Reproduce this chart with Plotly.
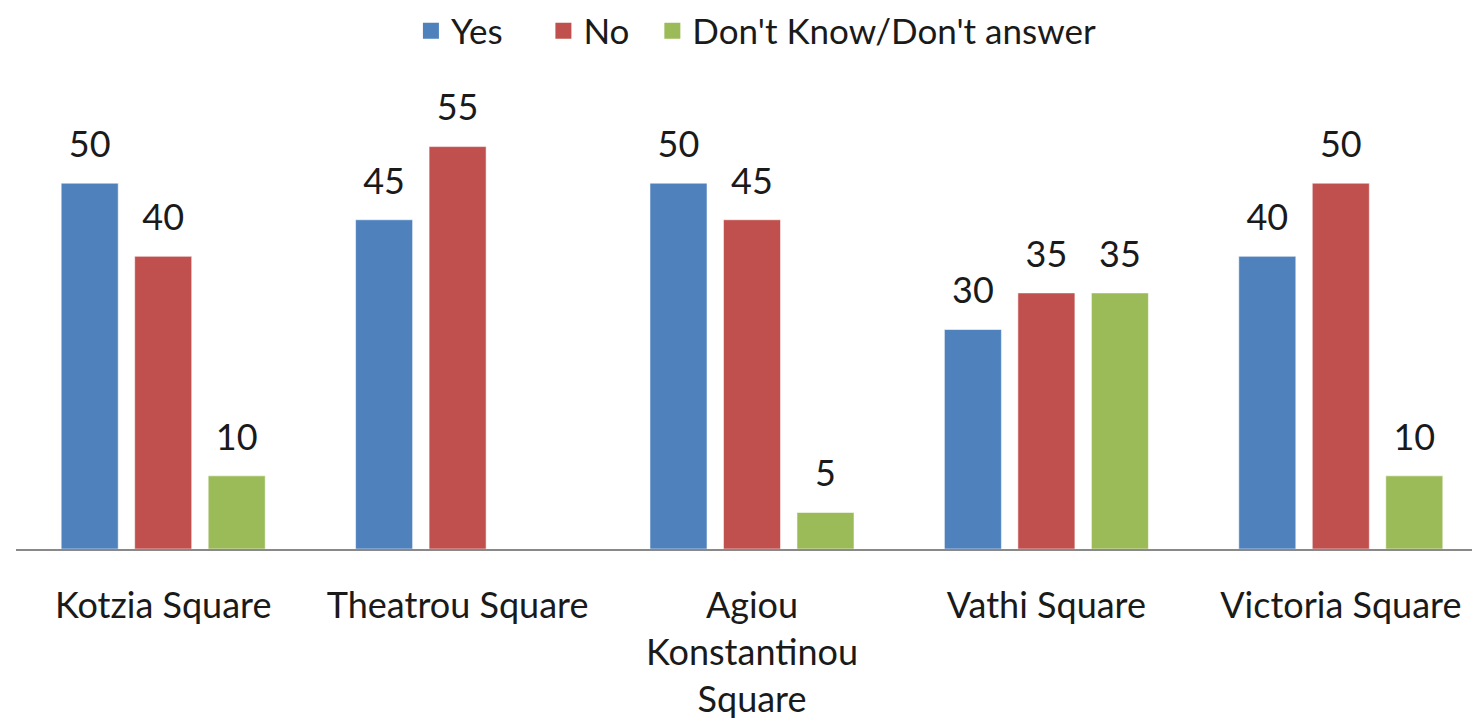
import plotly.graph_objects as go

categories = ["Kotzia Square", "Theatrou Square", "Agiou<br>Konstantinou<br>Square",
              "Vathi Square", "Victoria Square"]
yes_values = [50, 45, 50, 30, 40]
no_values = [40, 55, 45, 35, 50]
dk_values = [10, None, 5, 35, 10]
series_names = ["Yes", "No", "Don't Know/Don't answer"]
series_colors = ["#4F81BD", "#C0504D", "#9BBB59"]
series_values = [yes_values, no_values, dk_values]
legend_pad = ["\u00a0\u00a0\u00a0\u00a0", "\u00a0\u00a0", ""]

FONT = "Lato, Roboto, sans-serif"
TEXT_COLOR = "#1a1a1a"
FS = 36

fig = go.Figure()
for name, vals, col in zip(series_names, series_values, series_colors):
    fig.add_trace(go.Bar(
        x=categories, y=vals, name=name, showlegend=False,
        marker=dict(color=col, line=dict(color="rgba(255,255,255,0.55)", width=1)),
    ))
for name, vals, col in zip(series_names, series_values, series_colors):
    fig.add_trace(go.Scatter(
        x=categories, y=vals, mode="markers+text", texttemplate="%{y}",
        textposition="top center", showlegend=False, cliponaxis=False,
        marker=dict(size=26, opacity=0, color=col),
        textfont=dict(family=FONT, size=FS, color=TEXT_COLOR),
        hoverinfo="skip",
    ))
for name, col, pad in zip(series_names, series_colors, legend_pad):
    fig.add_trace(go.Scatter(
        x=[None], y=[None], mode="markers", name=name + pad,
        marker=dict(symbol="square", size=20, color=col),
        xaxis="x2", yaxis="y2",
    ))

fig.update_layout(
    width=1480, height=726,
    margin=dict(l=8, r=0, t=102, b=185),
    paper_bgcolor="white", plot_bgcolor="white",
    barmode="group", bargap=0.251, bargroupgap=0.224,
    scattermode="group", scattergap=0.251,
    font=dict(family=FONT, size=FS, color=TEXT_COLOR),
    showlegend=True,
    legend=dict(orientation="h", x=0.503, xanchor="center", y=0.9683, yanchor="middle",
                yref="container",
                font=dict(family=FONT, size=35, color=TEXT_COLOR),
                itemclick=False),
    xaxis=dict(type="category", range=[-0.5, 4.5], showline=True, linecolor="#898989",
               linewidth=2, ticks="", showgrid=False, zeroline=False, ticklabelstandoff=24,
               tickfont=dict(family=FONT, size=FS, color=TEXT_COLOR), fixedrange=True),
    yaxis=dict(range=[0, 60], visible=False, showgrid=False, zeroline=False, fixedrange=True),
    xaxis2=dict(overlaying="x", visible=False),
    yaxis2=dict(overlaying="y", visible=False),
)

fig.write_html("out.html")
